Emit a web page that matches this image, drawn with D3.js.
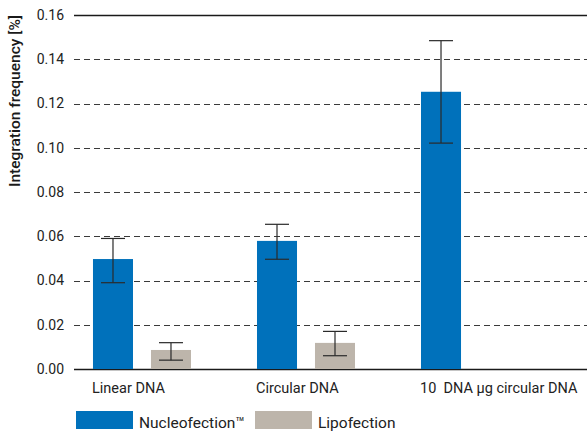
<!DOCTYPE html>
<html>
<head>
<meta charset="utf-8">
<script src="https://cdn.jsdelivr.net/npm/d3@7"></script>
<style>
  body { margin: 0; background: #fff; }
  svg { display: block; }
</style>
</head>
<body>
<svg id="chart" width="587" height="432"></svg>
<script>
// data
const categories = ['Linear DNA', 'Circular DNA', '10  DNA \u00b5g circular DNA'];
const seriesNames = ['Nucleofection\u2122', 'Lipofection'];
const nucleofection = [0.0497, 0.0579, 0.1253];
const nucleoErrLow = [0.039, 0.0496, 0.1021];
const nucleoErrHigh = [0.059, 0.0654, 0.1484];
const lipofection = [0.0086, 0.0118, null];
const lipoErrLow = [0.004, 0.006, null];
const lipoErrHigh = [0.0119, 0.017, null];
const yTicks = [0, 0.02, 0.04, 0.06, 0.08, 0.10, 0.12, 0.14, 0.16];
const colors = ['#0071bb', '#bdb5ab'];

const svg = d3.select('#chart');
const font = 'Roboto, "Liberation Sans", sans-serif';

const plotLeft = 74, plotRight = 587, plotTop = 15, plotBottom = 369;

const y = d3.scaleLinear().domain([0, 0.16]).range([plotBottom, plotTop]);
const x = d3.scaleBand().domain(categories)
    .range([73.3, 538.7]).paddingInner(0.4024).paddingOuter(0.12);
const xs = d3.scaleBand().domain(seriesNames)
    .range([0, x.bandwidth()]).paddingInner(0.31);

// grid lines
svg.append('g')
  .selectAll('line')
  .data(yTicks)
  .join('line')
    .attr('x1', plotLeft).attr('x2', plotRight)
    .attr('y1', d => Math.round(y(d)) + 0.5).attr('y2', d => Math.round(y(d)) + 0.5)
    .attr('stroke', d => (d === 0 || d === 0.16) ? '#1a1a1a' : '#3a3a3a')
    .attr('stroke-width', d => (d === 0 || d === 0.16) ? 1.3 : 1)
    .attr('stroke-dasharray', d => (d === 0 || d === 0.16) ? null : '6,4');

// y tick labels
svg.append('g')
  .selectAll('text')
  .data(yTicks)
  .join('text')
    .attr('x', 64).attr('y', d => y(d))
    .attr('dy', '0.35em')
    .attr('text-anchor', 'end')
    .style('font', `14px ${font}`)
    .attr('fill', '#222')
    .text(d => d3.format('.2f')(d));

// y axis title
svg.append('text')
  .attr('transform', 'translate(20,101) rotate(-90)')
  .attr('text-anchor', 'middle')
  .style('font', `500 15.5px ${font}`)
  .attr('fill', '#1a1a1a')
  .text('Integration frequency [%]');

const rows = categories.map((c, i) => [
  {cat: c, s: seriesNames[0], v: nucleofection[i], lo: nucleoErrLow[i], hi: nucleoErrHigh[i], color: colors[0]},
  {cat: c, s: seriesNames[1], v: lipofection[i], lo: lipoErrLow[i], hi: lipoErrHigh[i], color: colors[1]}
]).flat().filter(d => d.v != null);

// bars
svg.append('g')
  .selectAll('rect')
  .data(rows)
  .join('rect')
    .attr('x', d => x(d.cat) + xs(d.s))
    .attr('y', d => y(d.v))
    .attr('width', xs.bandwidth())
    .attr('height', d => y(0) - y(d.v))
    .attr('fill', d => d.color);

// error bars
const eb = svg.append('g').attr('stroke', '#2a2a2a').attr('stroke-width', 1.2);
rows.forEach(d => {
  const cx = x(d.cat) + xs(d.s) + xs.bandwidth() / 2;
  eb.append('line').attr('x1', cx).attr('x2', cx).attr('y1', y(d.hi)).attr('y2', y(d.lo));
  eb.append('line').attr('x1', cx - 12).attr('x2', cx + 12).attr('y1', y(d.hi)).attr('y2', y(d.hi));
  eb.append('line').attr('x1', cx - 12).attr('x2', cx + 12).attr('y1', y(d.lo)).attr('y2', y(d.lo));
});

// category labels
svg.append('g')
  .selectAll('text')
  .data(categories)
  .join('text')
    .attr('x', d => x(d) - 1).attr('y', 393)
    .style('font', `14.5px ${font}`)
    .style('white-space', 'pre')
    .attr('fill', '#222')
    .text(d => d);

// legend
const legend = svg.append('g')
  .selectAll('g')
  .data(seriesNames)
  .join('g')
    .attr('transform', (d, i) => `translate(${76 + i * 179},411)`);
legend.append('rect')
  .attr('width', 57).attr('height', 18)
  .attr('fill', (d, i) => colors[i]);
legend.append('text')
  .attr('x', 63)
  .attr('y', 17)
  .style('font', `15.5px ${font}`)
  .attr('fill', '#222')
  .text(d => d);
</script>
</body>
</html>
